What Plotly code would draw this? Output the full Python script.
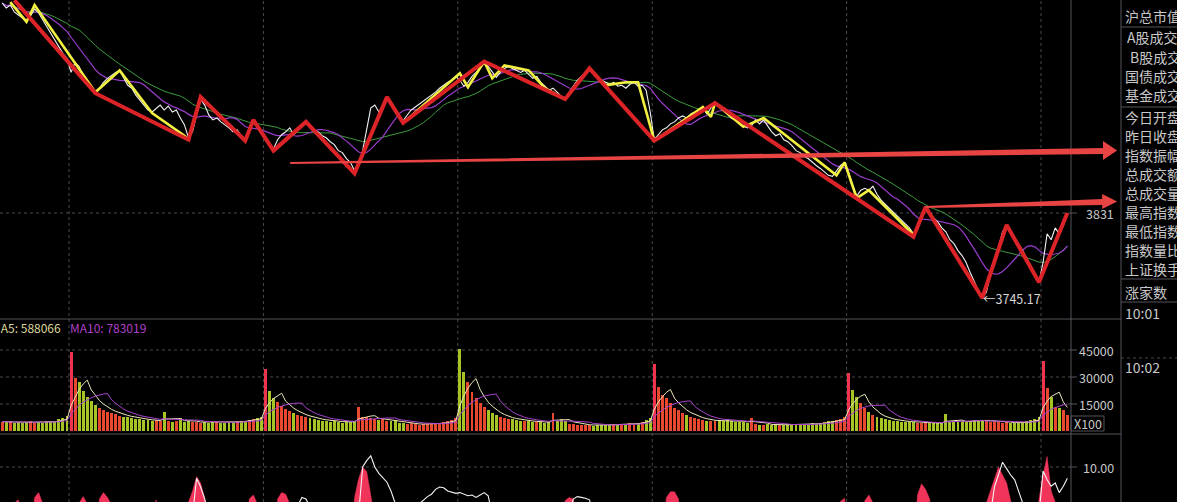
import plotly.graph_objects as go
import pandas as pd

W, H = 1177, 502

# ---------------- data ----------------
close = [4043,4038,4041,4034,4031,4028,4025,4030,4037,4033,
         4026,4019,4013,4006,3999,3992,3987,3973,3983,3979,
         3970,3965,3957,3953,3957,3963,3967,3970,3973,3975,
         3967,3960,3957,3950,3945,3940,3935,3933,3937,3940,
         3935,3939,3933,3935,3927,3920,3907,3913,3930,3946,
         3940,3930,3925,3927,3923,3920,3917,3913,3915,3909,
         3905,3915,3923,3919,3913,3907,3900,3896,3905,3910,
         3913,3917,3910,3915,3920,3923,3917,3915,3913,3909,
         3907,3903,3900,3894,3892,3886,3882,3874,3879,3894,
         3917,3937,3940,3933,3940,3946,3941,3935,3930,3924,
         3930,3935,3938,3941,3944,3947,3950,3953,3957,3960,
         3963,3965,3969,3965,3959,3963,3969,3973,3977,3982,
         3979,3973,3968,3973,3977,3979,3977,3975,3973,3975,
         3971,3967,3969,3963,3959,3955,3957,3953,3949,3947,
         3953,3960,3965,3969,3972,3975,3973,3969,3965,3963,
         3961,3963,3959,3960,3957,3961,3963,3959,3960,3955,
         3933,3905,3910,3915,3917,3921,3923,3927,3929,3927,
         3931,3933,3935,3937,3931,3937,3941,3939,3935,3931,
         3927,3925,3921,3919,3917,3919,3925,3921,3925,3919,
         3913,3909,3911,3905,3903,3899,3894,3892,3888,3886,
         3882,3879,3876,3872,3869,3868,3874,3879,3882,3872,
         3859,3848,3854,3856,3854,3858,3850,3844,3840,3836,
         3832,3828,3824,3820,3816,3810,3814,3829,3836,3832,
         3826,3822,3816,3812,3804,3800,3793,3788,3781,3771,
         3761,3753,3745.17,3751,3768,3781,3796,3812,3818,3812,
         3806,3800,3793,3785,3777,3769,3761,3781,3810,3804,
         3816,3810,3818,3831]

volume = [5200,4800,5400,4600,5000,4400,4800,5600,4700,5000,4500,5300,5800,5200,6400,7000,8200,
          43900,29400,27000,22000,19000,16500,14500,13000,11800,10800,10000,9200,8600,8000,7600,7200,6800,6500,6200,6000,5600,5900,5400,
          10500,5800,5200,5600,7200,5000,5400,4800,5200,4600,5000,4400,4800,5200,4600,4400,4800,5000,5400,5800,5600,6200,6800,7400,8000,
          34400,22000,18500,16000,14000,12300,11000,10000,9000,8200,7600,7000,6600,6200,5800,5600,5200,5800,5000,4600,4800,5200,5600,13300,8000,7600,7000,6600,6200,6600,5800,5400,6000,
          4600,4200,3800,4200,3800,3600,3800,4000,3800,4200,4600,5000,5600,6200,7400,
          45500,32800,27200,21700,18300,15500,13300,11700,10000,8800,8000,7400,6800,6400,6000,5800,5400,5600,5000,4800,5200,4600,5000,10000,5800,6400,5600,
          4000,3800,3400,3600,3200,3400,3000,3400,3200,3600,3400,3800,3600,4000,3800,4200,4000,4600,5200,6000,7400,
          37200,24400,20000,18300,15500,12800,11700,10000,8800,8000,7400,6800,6200,5800,5400,5600,6000,5800,6400,5600,5200,4800,5000,4600,7200,
          4000,3600,3400,3800,3400,3200,3600,3400,3800,3600,3400,3800,4000,3600,4200,4000,4600,5000,5400,5800,6200,6800,7600,
          32200,22800,18900,15500,12800,10600,8900,7800,7200,6700,6200,5800,5500,5200,5000,4800,5200,4600,4400,4800,4400,4200,4600,4400,9400,
          5000,5400,5000,5600,5200,5800,6000,5600,6200,5800,5200,5600,5000,4600,5200,4400,4200,4600,5000,5400,6000,6600,7600,
          38900,23900,18900,13300,12800,11700,9000]

red_zz_bar = [3, 23, 46, 49, 60, 62, 67, 75, 87, 95, 99, 119, 139, 145, 161, 176, 225, 228, 242, 248, 256, 263]
red_zz_price = [4046, 3952, 3905, 3948, 3904, 3925, 3894, 3923, 3871, 3948, 3922, 3984, 3946, 3977,
                3904, 3942, 3807, 3837, 3745.17, 3819, 3761, 3831]

yel_zz_bar = [2, 6, 8, 23, 29, 37, 45, 46, None,
              99, 113, 115, 119, 121, 124, 130, 134, 139, 145, 149, 154, 157, 161, 173, 175, 176,
              183, 188, 206, 208, 211, 214, 225]
yel_zz_price = [4044, 4024, 4041, 3953, 3975, 3932, 3909, 3905, None,
                3922, 3972, 3958, 3984, 3967, 3980, 3975, 3957, 3946, 3977, 3960, 3963, 3963, 3904, 3938, 3928, 3942,
                3918, 3927, 3869, 3882, 3846, 3854, 3809]

ind_fill_bar = [3, 4, 8, 9, 10, 19, 20, 21, 24, 25, 26, 27, 38, 46, 47, 48, 49, 50, 61, 62, 63,
                68, 69, 70, 71, 87, 88, 89, 90, 91, 139, 140, 141, 164, 165, 166, 167, 207, 208,
                213, 214, 215, 226, 227, 228, 229, 243, 244, 245, 246, 247, 248, 249, 256, 257, 258, 259, 260]
ind_fill_val = [5.5, 5.9, 6.2, 6.8, 5.4, 5.5, 6.3, 5.4, 6.0, 6.8, 6.2, 5.2, 5.9, 5.6, 7.0, 8.8, 8.0, 6.0, 6.0, 6.5, 5.4,
                6.0, 6.8, 6.6, 5.4, 6.2, 8.5, 10.0, 9.4, 6.5, 5.8, 6.2, 6.0, 6.2, 6.9, 6.9, 6.0, 5.7, 6.1,
                5.8, 6.5, 5.5, 6.5, 7.9, 7.2, 6.0, 5.5, 7.0, 8.5, 10.0, 9.0, 8.0, 5.8, 6.0, 9.0, 11.3, 7.0, 5.6]

ind_line_bar = [48, 49, 50, 73, 74, 75, 76, 89, 90, 91, 92, 93, 94, 95, 96, 97,
                103, 104, 105, 106, 107, 108, 109, 110, 111, 112, 113, 114, 115, 116, 117, 118, 119, 120,
                141, 142, 143, 144, 145, 245, 246, 247, 248, 249, 250, 251, 252,
                257, 258, 259, 260, 261, 262, 263]
ind_line_val = [8.6, 7.5, 6.0, 5.2, 6.2, 6.0, 5.2, 10.0, 10.8, 11.4, 10.0, 9.2, 8.6, 8.1, 7.0, 5.8,
                5.4, 5.9, 6.3, 6.6, 7.2, 7.5, 7.4, 7.0, 6.8, 6.7, 6.8, 6.6, 6.4, 6.5, 6.2, 6.5, 6.8, 6.4,
                6.0, 6.3, 6.2, 6.1, 5.9, 7.5, 9.0, 10.6, 9.8, 9.0, 8.4, 7.0, 5.4,
                9.5, 8.4, 7.6, 8.0, 6.8, 7.6, 8.6]

day_open_bar = [17, 65, 113, 161, 209, 257]
day_open_up = [True, True, False, True, True, True]
last_label = "3831"
low_bar, low_label = 242, "3745.17"
vol_ticks = [45000, 30000, 15000]
ind_ticks = [10.0]
vol_title_ma5 = "MA5: 588066"
vol_title_ma10 = "MA10: 783019"
info_labels = ["沪总市值", "A股成交", "B股成交", "国债成交", "基金成交",
               "今日开盘", "昨日收盘", "指数振幅", "总成交额", "总成交量",
               "最高指数", "最低指数", "指数量比", "上证换手", "涨家数", "10:01", "10:02"]

# arrows (bar index, price) polygons
arrow1 = [(71.1, 3882.5), (271.8, 3896.6), (271.8, 3903.7), (275.3, 3894.1),
          (271.8, 3884.5), (271.8, 3890.6), (71.1, 3880.5)]
arrow2 = [(227.9, 3838.1), (271.6, 3845.1), (271.6, 3850.2), (275.3, 3842.6),
          (271.6, 3835.0), (271.6, 3839.1), (227.9, 3836.1)]

assert len(close) == 264 and len(volume) == 264

# ---------------- derived ----------------
n = len(close)
idx = list(range(n))
s = pd.Series(close)
ma_p = s.rolling(10, min_periods=1).mean()
ma_g = s.rolling(20, min_periods=1).mean()
v = pd.Series(volume)
vma5 = v.rolling(5, min_periods=1).mean()
vma10 = v.rolling(10, min_periods=1).mean()
UP_C, DN_C = "#e8482e", "#a6c424"
bar_colors = [UP_C if (i == 0 or close[i] >= close[i - 1]) else DN_C for i in idx]
for b, up in zip(day_open_bar, day_open_up):
    bar_colors[b] = "#f0344e" if up else DN_C

fill_full = [0.0] * n
for b, val in zip(ind_fill_bar, ind_fill_val):
    fill_full[b] = val
line_full = [4.0] * n
for b, val in zip(ind_line_bar, ind_line_val):
    line_full[b] = val

FONT = "Noto Sans CJK SC, Noto Sans, sans-serif"
GRID = "#4a4a4e"
FRAME = "#55555c"
TXT = "#c8c8c8"

def py(p):
    return 1 - p / H

def px(p):
    return p / W

fig = go.Figure()
# main panel
fig.add_trace(go.Scatter(x=idx, y=ma_g, mode="lines", line=dict(color="#3c9c3c", width=1), xaxis="x", yaxis="y"))
fig.add_trace(go.Scatter(x=idx, y=ma_p, mode="lines", line=dict(color="#9a3ccc", width=1.2), xaxis="x", yaxis="y"))
fig.add_trace(go.Scatter(x=idx, y=close, mode="lines", line=dict(color="#f2f2f2", width=1.1), xaxis="x", yaxis="y"))
fig.add_trace(go.Scatter(x=yel_zz_bar, y=yel_zz_price, mode="lines", connectgaps=False,
                         line=dict(color="#f2f040", width=2.6), xaxis="x", yaxis="y"))
fig.add_trace(go.Scatter(x=red_zz_bar, y=red_zz_price, mode="lines",
                         line=dict(color="#dc2428", width=4), xaxis="x", yaxis="y"))
# volume panel
fig.add_trace(go.Bar(x=idx, y=volume, marker=dict(color=bar_colors, line=dict(width=0)), width=0.72,
                     xaxis="x2", yaxis="y2"))
fig.add_trace(go.Scatter(x=idx, y=vma5, mode="lines", line=dict(color="#ece6b8", width=1), xaxis="x2", yaxis="y2"))
fig.add_trace(go.Scatter(x=idx, y=vma10, mode="lines", line=dict(color="#a844cc", width=1), xaxis="x2", yaxis="y2"))
# indicator panel
fig.add_trace(go.Scatter(x=idx, y=fill_full, mode="lines", fill="tozeroy", fillcolor="#f0345a",
                         line=dict(color="#f0345a", width=0.5), xaxis="x3", yaxis="y3"))
fig.add_trace(go.Scatter(x=idx, y=line_full, mode="lines", line=dict(color="#f4f4f4", width=1.1),
                         xaxis="x3", yaxis="y3"))

xr = [(0 - 2.2) / 4.05, (1121 - 2.2) / 4.05]
xdom = [0, 1121 / W]
shapes = []
# day separators
for d in day_open_bar:
    shapes.append(dict(type="line", xref="x", yref="paper", x0=d - 0.5, x1=d - 0.5, y0=0, y1=1,
                       line=dict(color=GRID, width=1, dash="dot"), layer="below"))
# horizontal dotted grid + ticks
for yr, vals in (("y", [3831]), ("y2", vol_ticks), ("y3", ind_ticks)):
    for val in vals:
        shapes.append(dict(type="line", xref="paper", yref=yr, x0=0, x1=px(1071), y0=val, y1=val,
                           line=dict(color=GRID, width=1, dash="dot"), layer="below"))
        shapes.append(dict(type="line", xref="paper", yref=yr, x0=px(1071), x1=px(1077), y0=val, y1=val,
                           line=dict(color=FRAME, width=1)))
# frame lines
for xp in (1071, 1121):
    shapes.append(dict(type="line", xref="paper", yref="paper", x0=px(xp), x1=px(xp), y0=0, y1=1,
                       line=dict(color=FRAME, width=1)))
for yp in (319, 434):
    shapes.append(dict(type="line", xref="paper", yref="paper", x0=0, x1=px(1121), y0=py(yp), y1=py(yp),
                       line=dict(color=FRAME, width=1)))
for yp in (27, 107, 279, 302):
    shapes.append(dict(type="line", xref="paper", yref="paper", x0=px(1121), x1=1, y0=py(yp), y1=py(yp),
                       line=dict(color=FRAME, width=1)))
shapes.append(dict(type="line", xref="paper", yref="paper", x0=px(1121), x1=1, y0=py(358), y1=py(358),
                   line=dict(color=GRID, width=1, dash="dot")))
# X100 box
shapes.append(dict(type="rect", xref="paper", yref="paper", x0=px(1071), x1=px(1104), y0=py(431), y1=py(416),
                   line=dict(color=FRAME, width=1)))
# arrows
for arr in (arrow1, arrow2):
    path = "M " + " L ".join(f"{a},{b}" for a, b in arr) + " Z"
    shapes.append(dict(type="path", xref="x", yref="y", path=path, fillcolor="#e84444",
                       line=dict(width=0), layer="above"))

ann = []
ann.append(dict(x=px(1116), y=3831, xref="paper", yref="y", text=last_label, showarrow=False,
                xanchor="right", yanchor="middle", font=dict(size=12.5, color=TXT, family=FONT)))
for val in vol_ticks:
    ann.append(dict(x=px(1116), y=val, xref="paper", yref="y2", text=str(val), showarrow=False,
                    xanchor="right", yanchor="middle", font=dict(size=12.5, color=TXT, family=FONT)))
for val in ind_ticks:
    ann.append(dict(x=px(1116), y=val, xref="paper", yref="y3", text=f"{val:.2f}", showarrow=False,
                    xanchor="right", yanchor="middle", font=dict(size=12.5, color=TXT, family=FONT)))
ann.append(dict(x=px(1088), y=py(423.5), xref="paper", yref="paper", text="X100", showarrow=False,
                xanchor="center", yanchor="middle", font=dict(size=12.5, color=TXT, family=FONT)))
ann.append(dict(x=low_bar, y=close[low_bar], xref="x", yref="y", text="←" + low_label, showarrow=False,
                xanchor="left", yanchor="middle", xshift=-1, font=dict(size=12.5, color="#d4d4d4", family=FONT)))
ann.append(dict(x=0, y=py(327), xref="paper", yref="paper", text=vol_title_ma5, showarrow=False,
                xanchor="left", yanchor="middle", xshift=-11, font=dict(size=12, color="#dcd69c", family=FONT)))
ann.append(dict(x=px(68), y=py(327), xref="paper", yref="paper", text=vol_title_ma10, showarrow=False,
                xanchor="left", yanchor="middle", font=dict(size=12, color="#b040c8", family=FONT)))
info_y = [16, 37, 57, 76, 95, 117, 136, 155, 174, 193, 212, 231, 250, 269, 292, 313, 367]
info_x = [1123, 1125, 1128, 1123, 1123, 1123, 1123, 1123, 1123, 1123, 1123, 1123, 1123, 1123, 1123, 1123, 1123]
for t, yy, xx in zip(info_labels, info_y, info_x):
    ann.append(dict(x=px(xx), y=py(yy), xref="paper", yref="paper", text=t, showarrow=False,
                    xanchor="left", yanchor="middle", font=dict(size=14, color=TXT, family=FONT)))

fig.update_layout(
    width=W, height=H, margin=dict(l=0, r=0, t=0, b=0),
    paper_bgcolor="#000000", plot_bgcolor="#000000",
    showlegend=False, hovermode=False, bargap=0,
    xaxis=dict(domain=xdom, range=xr, visible=False, anchor="y", fixedrange=True),
    xaxis2=dict(domain=xdom, range=xr, visible=False, anchor="y2", matches="x"),
    xaxis3=dict(domain=xdom, range=xr, visible=False, anchor="y3", matches="x"),
    yaxis=dict(domain=[1 - 318 / H, 1], range=[3724.97, 4046.1], visible=False, anchor="x"),
    yaxis2=dict(domain=[1 - 434 / H, 1 - 319 / H], range=[-1667, 62222], visible=False, anchor="x2"),
    yaxis3=dict(domain=[0, 1 - 434 / H], range=[5.625, 14.125], visible=False, anchor="x3"),
    shapes=shapes, annotations=ann,
)

fig.write_html("out.html", config={"displayModeBar": False},
               post_script="document.body.style.margin='0px';document.body.style.background='#000';")
